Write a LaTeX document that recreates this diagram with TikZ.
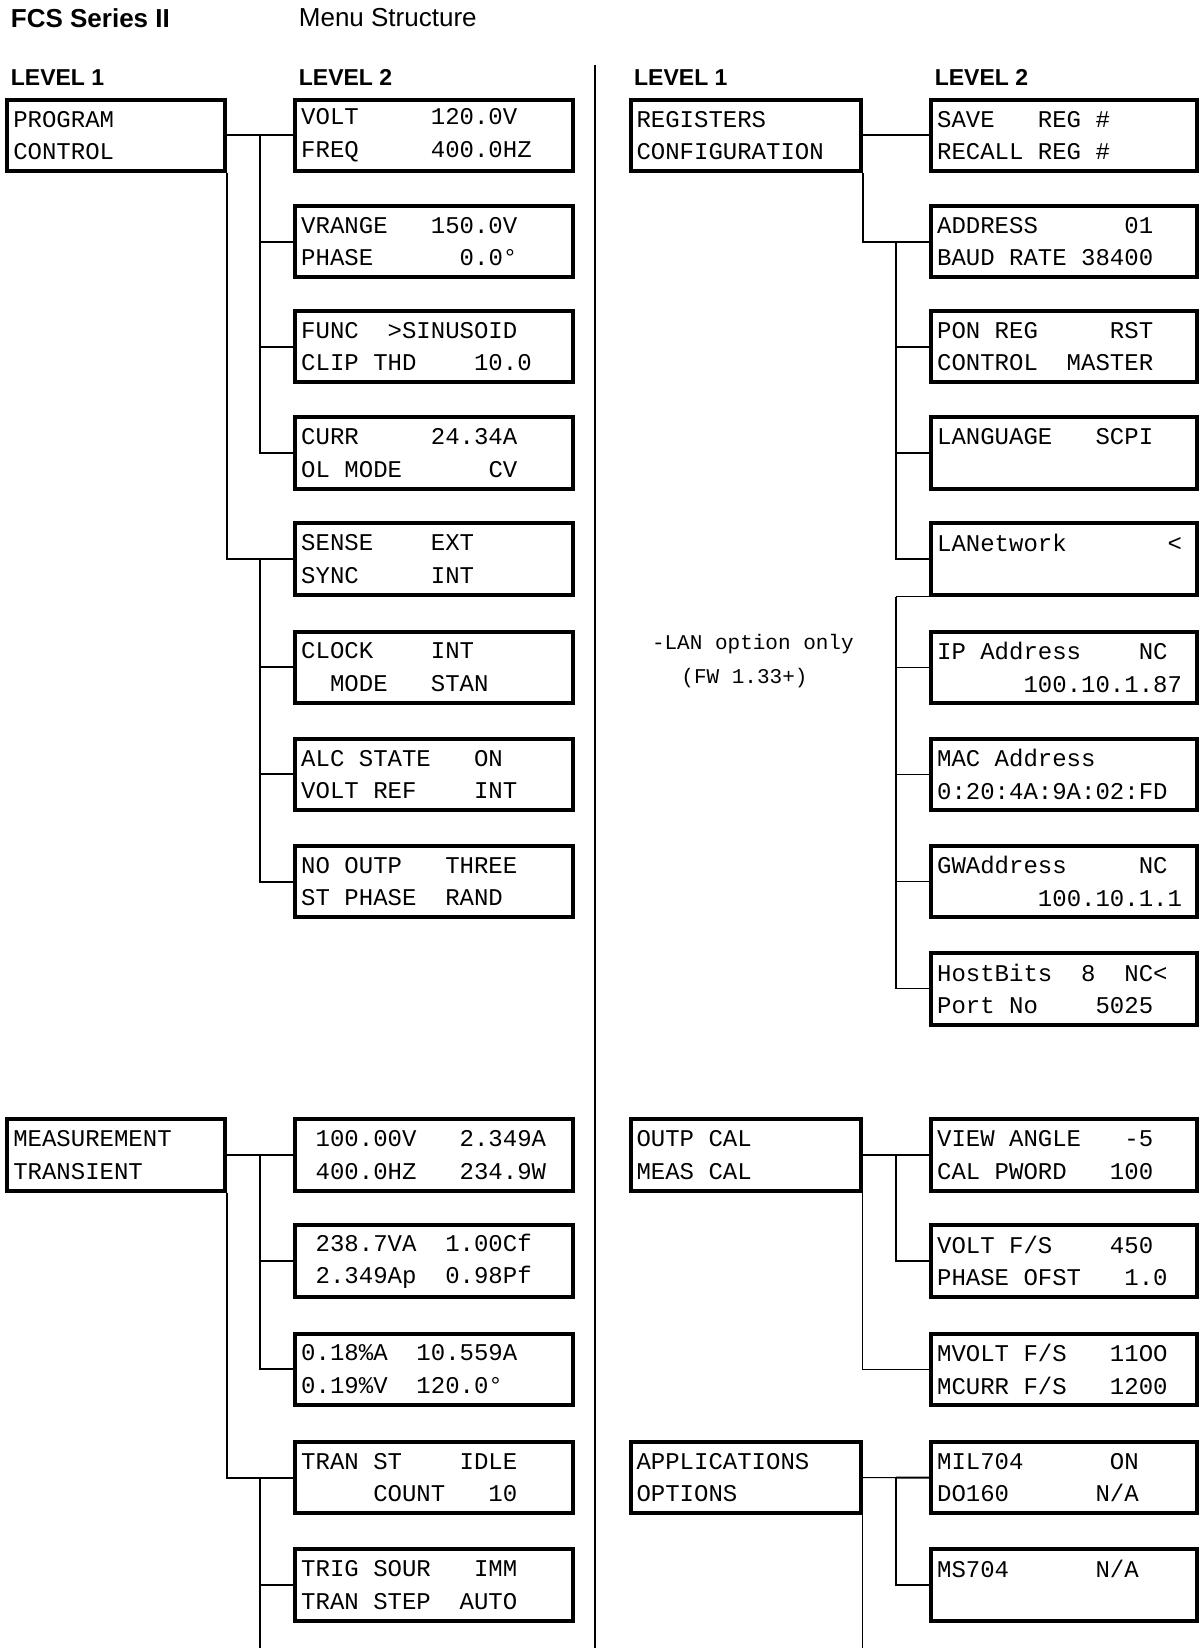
\documentclass[tikz,border=0pt]{standalone}
\usepackage{fontspec}
\setmainfont{Liberation Sans}
\newfontfamily\lcdfont{Liberation Mono}
\usepackage{tikz}
\usetikzlibrary{calc}

\tikzset{
  lcd/.style={draw, line width=2pt, anchor=north west, minimum height=35.7pt,
    inner xsep=3pt, inner ysep=0pt, align=flush left,
    font=\lcdfont\fontsize{12}{16.3}\selectfont},
  menu/.style={lcd, text width=102.8pt},
  menuR/.style={lcd, text width=109.1pt},
  sub/.style={lcd, text width=132.7pt},
  subR/.style={lcd, text width=126.9pt},
  head/.style={anchor=west, inner sep=0pt, font=\bfseries\fontsize{11.5}{13}\selectfont},
  note/.style={anchor=west, inner sep=0pt, font=\lcdfont\fontsize{10.5}{12}\selectfont},
  link/.style={line width=1pt},
  thinlink/.style={line width=0.6pt}
}

\begin{document}
\begin{tikzpicture}[x=0.5254pt, y=-0.5254pt]
			\useasboundingbox (0,0) rectangle (1141,1568);

			% headings
			\node [anchor=west, inner sep=0pt, font=\bfseries\fontsize{13}{15}\selectfont] (series) at (10,17) {FCS Series II};
			\node [anchor=west, inner sep=0pt, font=\fontsize{13}{15}\selectfont] (menutitle) at (284,17) {Menu Structure};
			\node [head] (lvlA) at (10,74) {LEVEL 1};
			\node [head] (lvlB) at (284,74) {LEVEL 2};
			\node [head] (lvlC) at (603,74) {LEVEL 1};
			\node [head] (lvlD) at (889,74) {LEVEL 2};

			\coordinate (divtop) at (566,62);
			\coordinate (divbot) at (566,1568);
			\draw [link] (divtop) -- (divbot);

			% program control
			\node [menu] (prog) at (5,93) {PROGRAM\\CONTROL};
			\node [sub] (volt) at (279,93) {VOLT~~~~~120.0V\\FREQ~~~~~400.0HZ};
			\node [sub] (vrange) at (279,194) {VRANGE~~~150.0V\\PHASE~~~~~~0.0°};
			\node [sub] (func) at (279,294) {FUNC~~>SINUSOID\\CLIP~THD~~~~10.0};
			\node [sub] (curr) at (279,395) {CURR~~~~~24.34A\\OL~MODE~~~~~~CV};
			\node [sub] (sense) at (279,496) {SENSE~~~~EXT\\SYNC~~~~~INT};
			\node [sub] (clock) at (279,599) {CLOCK~~~~INT\\~~MODE~~~STAN};
			\node [sub] (alc) at (279,701) {ALC~STATE~~~ON\\VOLT~REF~~~~INT};
			\node [sub] (nooutp) at (279,803) {NO~OUTP~~~THREE\\ST~PHASE~~RAND};

			\draw [link] (prog.east) -- (volt.west);
			\coordinate (busA) at ($(prog.east)!0.5!(volt.west)$);
			\foreach \n in {vrange,func,curr}
				\draw [link] (busA) |- (\n.west);
			\draw [link] (prog.south east) |- (sense.west);
			\coordinate (busB) at (busA |- sense.west);
			\foreach \n in {clock,alc,nooutp}
				\draw [link] (busB) |- (\n.west);

			% registers configuration
			\node [menuR] (regs) at (598,93) {REGISTERS\\CONFIGURATION};
			\node [subR] (save) at (884,93) {SAVE~~~REG~\#\\RECALL~REG~\#};
			\node [subR] (addr) at (884,194) {ADDRESS~~~~~~01\\BAUD~RATE~38400};
			\node [subR] (pon) at (884,294) {PON~REG~~~~~RST\\CONTROL~~MASTER};
			\node [subR] (lang) at (884,395) {LANGUAGE~~~SCPI\\~};
			\node [subR] (lan) at (884,496) {LANetwork~~~~~~~<\\~};
			\node [subR] (ip) at (884,599) {IP~Address~~~~NC\\~~~~~~100.10.1.87};
			\node [subR] (mac) at (884,701) {MAC~Address\\0:20:4A:9A:02:FD};
			\node [subR] (gw) at (884,803) {GWAddress~~~~~NC\\~~~~~~~100.10.1.1};
			\node [subR] (host) at (884,905) {HostBits~~8~~NC<\\Port~No~~~~5025};

			\node [note] (lannote) at (620,613) {-LAN option only};
			\node [note] (fwnote) at (648,645) {(FW 1.33+)};

			\draw [link] (regs.east) -- (save.west);
			\coordinate (busR) at ($(regs.east)!0.5!(save.west)$);
			\draw [link] (regs.south east) |- (addr.west);
			\coordinate (busC) at (busR |- addr.west);
			\foreach \n in {pon,lang,lan}
				\draw [link] (busC) |- (\n.west);
			\coordinate (busD) at (busR |- lan.south west);
			\draw [thinlink] (lan.south west) -- (busD);
			\foreach \n in {ip,mac,gw,host}
				\draw [thinlink] (busD) |- (\n.west);

			% measurement transient
			\node [menu] (meas) at (5,1063) {MEASUREMENT\\TRANSIENT};
			\node [sub] (rdA) at (279,1063) {~100.00V~~~2.349A\\~400.0HZ~~~234.9W};
			\node [sub] (rdB) at (279,1164) {~238.7VA~~1.00Cf\\~2.349Ap~~0.98Pf};
			\node [sub] (rdC) at (279,1267) {0.18\%A~~10.559A\\0.19\%V~~120.0°};
			\node [sub] (tran) at (279,1370) {TRAN~ST~~~~IDLE\\~~~~~COUNT~~~10};
			\node [sub] (trig) at (279,1472) {TRIG~SOUR~~~IMM\\TRAN~STEP~~AUTO};

			\draw [link] (meas.east) -- (rdA.west);
			\coordinate (busE) at ($(meas.east)!0.5!(rdA.west)$);
			\foreach \n in {rdB,rdC}
				\draw [link] (busE) |- (\n.west);
			\draw [link] (meas.south east) |- (tran.west);
			\coordinate (busF) at (busE |- tran.west);
			\draw [link] (busF) -- (busF |- divbot);
			\draw [link] (busF) |- (trig.west);

			% calibration and options
			\node [menuR] (cal) at (598,1063) {OUTP~CAL\\MEAS~CAL};
			\node [subR] (view) at (884,1063) {VIEW~ANGLE~~~-5\\CAL~PWORD~~~100};
			\node [subR] (vfs) at (884,1164) {VOLT~F/S~~~~450\\PHASE~OFST~~~1.0};
			\node [subR] (mfs) at (884,1267) {MVOLT~F/S~~~11OO\\MCURR~F/S~~~1200};
			\node [menuR] (apps) at (598,1370) {APPLICATIONS\\OPTIONS};
			\node [subR] (mil) at (884,1370) {MIL704~~~~~~ON\\DO160~~~~~~N/A};
			\node [subR] (ms) at (884,1472) {MS704~~~~~~N/A\\~};

			\coordinate (busG) at ($(cal.east)!0.5!(view.west)$);
			\draw [thinlink] (cal.east) -- (busG);
			\draw [link] (busG) -- (view.west);
			\draw [link] (busG) |- (vfs.west);
			\draw [thinlink] (cal.south east) |- (mfs.west);
			\coordinate (busH) at ($(apps.east)!0.5!(mil.west)$);
			\draw [thinlink] (apps.east) -- (busH);
			\draw [link] (busH) -- (mil.west);
			\draw [link] (busH) |- (ms.west);
			\draw [thinlink] (apps.south east) -- (apps.south east |- divbot);
		\end{tikzpicture}
\end{document}
